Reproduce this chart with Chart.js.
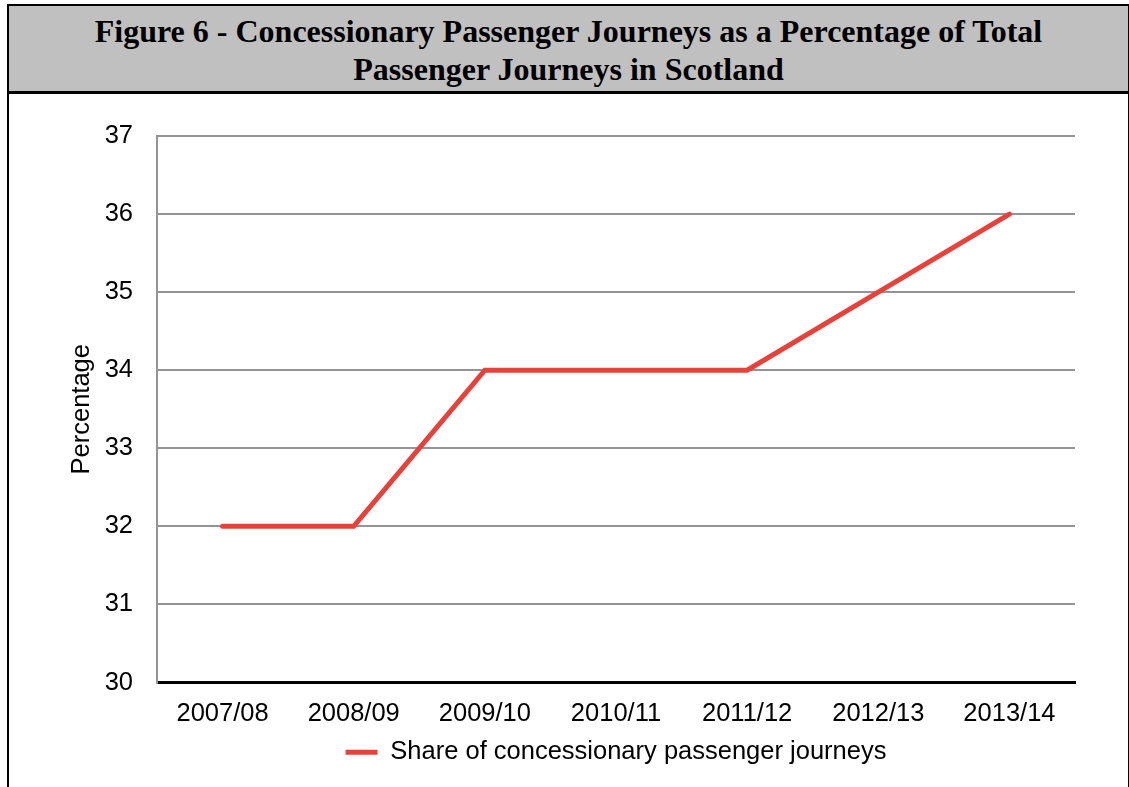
<!DOCTYPE html>
<html>
<head>
<meta charset="utf-8">
<script src="https://cdn.jsdelivr.net/npm/chart.js@4"></script>
<style>
  html, body { margin: 0; padding: 0; background: #fff; }
  body { width: 1129px; height: 787px; position: relative; overflow: hidden; }
  .frame {
    position: absolute; left: 7px; top: 4px; width: 1119px; height: 800px;
    border: 2px solid #000; box-sizing: content-box;
  }
  .title {
    background: #c0c0c0; border-bottom: 3px solid #000;
    font-family: "Liberation Serif", "Times New Roman", serif; font-weight: bold;
    font-size: 32px; line-height: 38px; text-align: center; color: #000;
    padding-top: 6px; box-sizing: border-box; height: 88px;
  }
  .chart-box { position: absolute; left: 9px; top: 92px; width: 1118px; height: 695px; }
</style>
</head>
<body>
<div class="frame">
  <div class="title">Figure 6 - Concessionary Passenger Journeys as a Percentage of Total<br>Passenger Journeys in Scotland</div>
</div>
<div class="chart-box"><canvas id="shareChart"></canvas></div>
<script>
const years = ['2007/08', '2008/09', '2009/10', '2010/11', '2011/12', '2012/13', '2013/14'];
const shareValues = [32, 32, 34, 34, 34, 35, 36];
const seriesName = 'Share of concessionary passenger journeys';

document.addEventListener('DOMContentLoaded', function() {
    Chart.defaults.font.family = '"Liberation Sans", Arial, sans-serif';
    Chart.defaults.color = '#000';

    const ctx = document.getElementById('shareChart').getContext('2d');
    new Chart(ctx, {
        type: 'line',
        data: {
            labels: years,
            datasets: [{
                label: seriesName,
                data: shareValues,
                borderColor: '#e8413a',
                backgroundColor: '#e8413a',
                borderWidth: 5,
                borderCapStyle: 'round',
                pointRadius: 0,
                tension: 0
            }]
        },
        options: {
            responsive: true,
            maintainAspectRatio: false,
            animation: false,
            layout: { padding: { left: 0, right: 52, top: 44, bottom: 12 } },
            scales: {
                x: {
                    offset: true,
                    grid: { display: false, drawTicks: false },
                    border: { display: true, color: '#000', width: 3 },
                    ticks: { font: { size: 25.5 }, padding: 16, maxRotation: 0 },
                    afterFit: function(scale) { scale.height = 47; }
                },
                y: {
                    min: 30,
                    max: 37,
                    ticks: { stepSize: 1, font: { size: 25.5 }, padding: 24 },
                    grid: { color: '#949494', lineWidth: 2, drawTicks: false },
                    border: { display: true, color: '#949494', width: 2 },
                    title: { display: true, text: 'Percentage', font: { size: 25.5 }, padding: { top: 58 } },
                    afterFit: function(scale) { scale.width = 148; }
                }
            },
            plugins: {
                legend: {
                    position: 'bottom',
                    fullSize: false,
                    labels: {
                        usePointStyle: true,
                        pointStyle: 'line',
                        pointStyleWidth: 32,
                        font: { size: 25.5 },
                        padding: 10
                    }
                },
                tooltip: { enabled: false }
            }
        }
    });
});
</script>
</body>
</html>
